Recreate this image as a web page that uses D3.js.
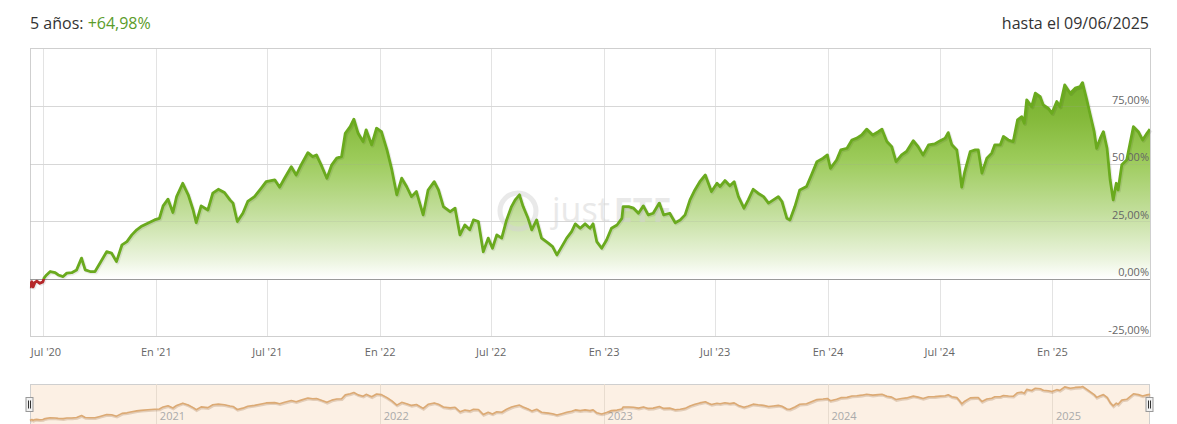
<!DOCTYPE html>
<html><head><meta charset="utf-8">
<script src="https://cdn.jsdelivr.net/npm/d3@7"></script>
<style>
body{margin:0;background:#fff;}
svg{display:block;font-family:"Open Sans",sans-serif;}
</style>
</head><body>
<svg id="c" width="1177" height="424"></svg>
<script>
const startDate = "2020-06-09";
const endDate = "2025-06-09";
const dayOffsets = [0,2,3,5,8,11,16,21,23,27,33,41,46,54,60,68,76,84,90,98,106,114,125,133,141,150,158,166,174,181,192,203,211,217,225,233,239,249,258,266,271,279,290,298,307,317,326,331,338,347,355,366,377,385,399,407,415,426,434,442,453,461,467,476,484,492,500,508,514,522,528,535,543,548,557,565,573,582,590,598,606,614,622,630,641,649,659,666,674,685,693,701,709,717,723,731,739,747,754,761,769,777,785,791,798,804,812,818,826,834,845,852,859,867,875,883,889,897,905,913,918,924,932,940,948,957,965,967,976,984,992,1000,1008,1016,1026,1033,1043,1052,1060,1068,1076,1084,1092,1101,1106,1111,1120,1125,1133,1141,1148,1155,1164,1171,1179,1187,1196,1204,1212,1220,1226,1234,1239,1247,1255,1266,1274,1283,1293,1300,1305,1315,1322,1332,1340,1348,1356,1364,1374,1383,1389,1397,1405,1412,1421,1429,1440,1448,1456,1465,1475,1484,1492,1497,1503,1511,1515,1519,1524,1533,1541,1546,1552,1560,1568,1573,1582,1587,1595,1603,1610,1617,1621,1625,1633,1639,1647,1652,1660,1666,1674,1679,1687,1696,1704,1712,1716,1723,1728,1735,1739,1745,1750,1756,1761,1766,1771,1774,1780,1788,1793,1799,1807,1814,1821,1826];
const returnsPct = [-3.9,-1.7,-1.2,-3.5,-1.5,-1.0,-1.9,-1.3,0.4,1.7,3.2,2.7,1.7,1.0,2.5,2.7,3.9,9.0,3.9,3.2,3.2,6.8,11.8,11.2,7.5,14.8,16.2,19.1,21.3,22.7,24.2,25.6,26.3,31.7,34.6,28.8,35.7,41.5,36.5,29.9,24.4,31.7,29.9,37.2,38.9,37.5,34.3,32.9,24.9,28.5,33.6,35.7,39.4,42.2,43.0,39.8,43.7,48.7,45.1,49.5,54.8,53.1,53.8,48.7,43.7,49.5,52.4,53.1,63.2,66.1,69.3,63.2,59.6,64.7,58.2,65.4,63.9,56.0,47.3,36.5,43.7,40.1,35.7,37.9,27.8,38.6,42.2,38.6,31.4,29.2,30.7,19.1,23.4,21.3,25.6,24.9,11.8,17.7,13.3,19.1,17.7,25.6,31.4,34.3,36.5,31.4,26.3,21.3,25.6,17.7,15.5,14.0,10.4,14.0,17.7,20.5,23.9,22.0,23.9,22.0,23.9,16.2,13.3,16.9,22.0,23.4,26.3,31.4,31.4,30.7,28.5,31.7,27.8,28.5,32.9,27.8,28.5,24.4,25.6,27.8,34.3,38.6,42.2,45.1,41.5,37.9,41.5,40.1,42.7,40.4,42.2,35.7,30.7,34.3,38.9,37.2,35.7,32.9,34.3,35.7,33.6,26.3,25.6,31.4,38.6,40.1,45.1,50.9,52.4,53.8,48.0,51.6,56.0,56.7,60.3,61.1,62.5,65.0,62.5,63.9,65.0,59.6,57.4,50.9,53.8,55.3,60.0,57.4,53.8,58.2,58.6,60.0,61.1,63.5,58.2,56.0,48.7,39.8,46.6,55.3,56.0,56.0,45.9,52.4,54.6,58.2,58.2,61.8,60.3,59.6,69.0,70.4,67.6,77.7,74.8,80.6,79.1,75.5,74.1,71.9,77.0,74.8,84.2,80.6,82.8,83.5,85.2,77.7,71.9,63.9,56.7,61.1,63.9,56.7,43.0,34.3,41.5,38.6,49.5,51.6,58.2,66.1,63.9,60.3,63.2,64.98];
const xTickDates = ["2020-07-01","2021-01-01","2021-07-01","2022-01-01","2022-07-01","2023-01-01","2023-07-01","2024-01-01","2024-07-01","2025-01-01"];
const xTickLabels = ["Jul '20","En '21","Jul '21","En '22","Jul '22","En '23","Jul '23","En '24","Jul '24","En '25"];
const yTickValues = [-25, 0, 25, 50, 75];
const yTickLabels = ["-25,00%","0,00%","25,00%","50,00%","75,00%"];
const navYearDates = ["2021-01-01","2022-01-01","2023-01-01","2024-01-01","2025-01-01"];
const navYearLabels = ["2021","2022","2023","2024","2025"];
const titlePrefix = "5 años: ";
const titleValue = "+64,98%";
const titleRight = "hasta el 09/06/2025";

const parse = d3.utcParse("%Y-%m-%d");
const t0 = parse(startDate), t1 = parse(endDate);
const data = dayOffsets.map((d, i) => ({date: d3.utcDay.offset(t0, d), v: returnsPct[i]}));

const svg = d3.select("#c");
const L = 30, R = 1150, T = 48.5, B = 336.5;
const x = d3.scaleUtc().domain([t0, t1]).range([L, R]);
const y = d3.scaleLinear().domain([-25, 100]).range([B, T]);
const y0 = y(0);

const defs = svg.append("defs");
const grad = defs.append("linearGradient").attr("id", "g").attr("gradientUnits", "userSpaceOnUse")
  .attr("x1", 0).attr("x2", 0).attr("y1", y(d3.max(returnsPct))).attr("y2", y0);
[[0, "#74b02a", 1], [0.18, "#84b93a", 1], [0.39, "#9ccb5a", 1], [0.67, "#c4df9e", 1], [0.9, "#ebf4de", 1], [1, "#ffffff", 1]]
  .forEach(s => grad.append("stop").attr("offset", s[0]).attr("stop-color", s[1]).attr("stop-opacity", s[2]));
defs.append("clipPath").attr("id", "above").append("rect").attr("x", L).attr("y", 0).attr("width", R - L).attr("height", y0);
defs.append("clipPath").attr("id", "below").append("rect").attr("x", L).attr("y", y0).attr("width", R - L).attr("height", B - y0 + 5);

// grid
const grid = svg.append("g");
grid.selectAll("line.v").data(xTickDates).join("line")
  .attr("x1", d => Math.round(x(parse(d))) + 0.5).attr("x2", d => Math.round(x(parse(d))) + 0.5)
  .attr("y1", T).attr("y2", B).attr("stroke", "#e3e3e3");
grid.selectAll("line.h").data(yTickValues.filter(v => v > 0)).join("line")
  .attr("x1", L).attr("x2", R).attr("y1", d => Math.round(y(d)) + 0.5).attr("y2", d => Math.round(y(d)) + 0.5)
  .attr("stroke", "#e3e3e3");
grid.append("rect").attr("x", L + 0.5).attr("y", T).attr("width", R - L).attr("height", B - T)
  .attr("fill", "none").attr("stroke", "#cfcfcf");

// area
const area = d3.area().x(d => x(d.date)).y0(y0).y1(d => y(d.v));
svg.append("path").datum(data).attr("d", area).attr("fill", "url(#g)").attr("clip-path", "url(#above)");

// horizontal grid over area (faint) and zero line
svg.append("g").selectAll("line").data(yTickValues.filter(v => v > 0)).join("line")
  .attr("x1", L).attr("x2", R).attr("y1", d => Math.round(y(d)) + 0.5).attr("y2", d => Math.round(y(d)) + 0.5)
  .attr("stroke", "rgba(160,160,160,0.18)");
svg.append("line").attr("x1", L).attr("x2", R).attr("y1", Math.round(y0) + 0.5).attr("y2", Math.round(y0) + 0.5)
  .attr("stroke", "#9a9a9a");

// watermark
const wm = svg.append("g").attr("opacity", 0.5);
wm.append("circle").attr("cx", 518).attr("cy", 211).attr("r", 18).attr("fill", "none")
  .attr("stroke", "#d4d4d4").attr("stroke-width", 5);
wm.append("text").attr("x", 552).attr("y", 222).attr("font-size", 34).attr("fill", "#d4d4d4")
  .attr("font-family", "Open Sans, sans-serif")
  .call(t => { t.append("tspan").text("just"); t.append("tspan").attr("dx", 4).attr("font-weight", "bold").text("ETF"); });

// y labels (above area, below line)
svg.append("g").selectAll("text").data(yTickValues).join("text")
  .attr("x", R - 1).attr("y", d => y(d) - 2.5).attr("text-anchor", "end")
  .attr("font-size", 11).attr("fill", "#666").text((d, i) => yTickLabels[i]);

// line
const line = d3.line().x(d => x(d.date)).y(d => y(d.v));
svg.append("path").datum(data).attr("d", line).attr("fill", "none").attr("stroke", "rgba(0,0,0,0.08)")
  .attr("stroke-width", 3.5).attr("transform", "translate(1,1)").attr("stroke-linejoin", "round");
svg.append("path").datum(data).attr("d", line).attr("fill", "none").attr("stroke", "#6aaa1e")
  .attr("stroke-width", 2.8).attr("stroke-linejoin", "round").attr("clip-path", "url(#above)");
svg.append("path").datum(data).attr("d", line).attr("fill", "none").attr("stroke", "#b5282a")
  .attr("stroke-width", 2.8).attr("stroke-linejoin", "round").attr("clip-path", "url(#below)");

// x labels
svg.append("g").selectAll("text").data(xTickDates).join("text")
  .attr("x", d => Math.max(x(parse(d)), L + 16)).attr("y", 356).attr("text-anchor", "middle")
  .attr("font-size", 11).attr("fill", "#666").text((d, i) => xTickLabels[i]);

// titles
const tt = svg.append("text").attr("x", 30).attr("y", 29).attr("font-size", 16).attr("fill", "#333");
tt.append("tspan").text(titlePrefix).attr("xml:space", "preserve");
tt.append("tspan").attr("fill", "#5b9c2a").text(titleValue);
svg.append("text").attr("x", 1149).attr("y", 29).attr("text-anchor", "end").attr("font-size", 16)
  .attr("fill", "#333").text(titleRight);

// navigator
const NT = 384, NB = 430;
const ny = d3.scaleLinear().domain(d3.extent(returnsPct)).range([420.5, 386.5]);
const nav = svg.append("g");
nav.append("rect").attr("x", L).attr("y", NT).attr("width", R - L).attr("height", NB - NT)
  .attr("fill", "#fcf0e4");
nav.append("line").attr("x1", L).attr("x2", R).attr("y1", NT + 0.5).attr("y2", NT + 0.5).attr("stroke", "#cfcfcf");
nav.append("line").attr("x1", L + 0.5).attr("x2", L + 0.5).attr("y1", NT).attr("y2", NB).attr("stroke", "#cfcfcf");
nav.append("line").attr("x1", R - 0.5).attr("x2", R - 0.5).attr("y1", NT).attr("y2", NB).attr("stroke", "#cfcfcf");
nav.selectAll("line.yr").data(navYearDates).join("line")
  .attr("x1", d => Math.round(x(parse(d))) + 0.5).attr("x2", d => Math.round(x(parse(d))) + 0.5)
  .attr("y1", NT).attr("y2", NB).attr("stroke", "#e8dccf");
nav.selectAll("text").data(navYearDates).join("text")
  .attr("x", d => x(parse(d)) + 3.5).attr("y", 420).attr("font-size", 11).attr("fill", "#aaa")
  .text((d, i) => navYearLabels[i]);
const nline = d3.line().x(d => x(d.date)).y(d => ny(d.v));
nav.append("path").datum(data).attr("d", nline).attr("fill", "none").attr("stroke", "rgba(150,100,50,0.25)")
  .attr("stroke-width", 2.5).attr("transform", "translate(0.5,1)");
nav.append("path").datum(data).attr("d", nline).attr("fill", "none").attr("stroke", "#dcaa74")
  .attr("stroke-width", 1.6).attr("stroke-linejoin", "round");
[L, R].forEach(hx => {
  const h = nav.append("g");
  h.append("rect").attr("x", hx - 4).attr("y", 397.5).attr("width", 7).attr("height", 14)
    .attr("fill", "#f2f2f2").attr("stroke", "#999");
  h.append("line").attr("x1", hx - 1.5).attr("x2", hx - 1.5).attr("y1", 400.5).attr("y2", 408.5).attr("stroke", "#333");
  h.append("line").attr("x1", hx + 0.5).attr("x2", hx + 0.5).attr("y1", 400.5).attr("y2", 408.5).attr("stroke", "#333");
});
</script>
</body></html>
